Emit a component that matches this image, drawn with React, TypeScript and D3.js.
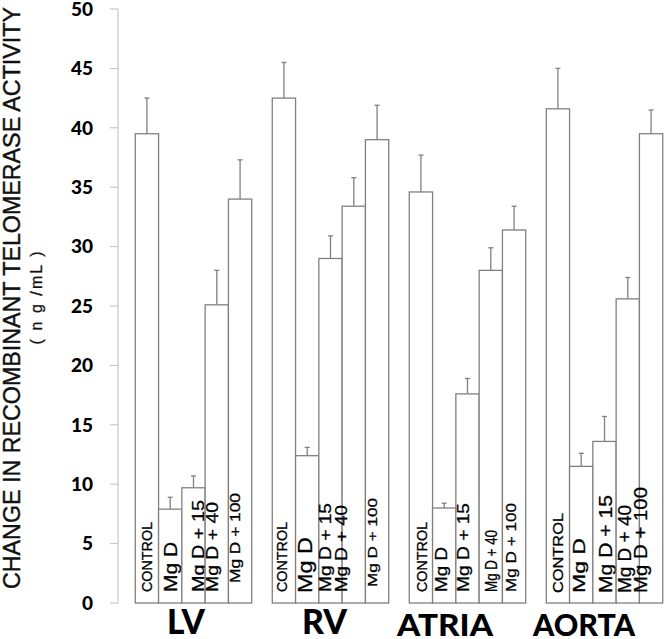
import React from "react";
import * as d3 from "d3";

const groups = ["LV", "RV", "ATRIA", "AORTA"];
const treatments = ["CONTROL", "Mg D", "Mg D + 15", "Mg D + 40", "Mg D + 100"];
const lvMeans = [39.5, 7.9, 9.7, 25.1, 34.0];
const lvErr = [3.0, 1.0, 1.0, 2.9, 3.3];
const rvMeans = [42.5, 12.4, 29.0, 33.4, 39.0];
const rvErr = [3.0, 0.7, 1.9, 2.4, 2.9];
const atriaMeans = [34.6, 8.0, 17.6, 28.0, 31.4];
const atriaErr = [3.1, 0.4, 1.3, 1.9, 2.0];
const aortaMeans = [41.6, 11.5, 13.6, 25.6, 39.5];
const aortaErr = [3.4, 1.1, 2.1, 1.8, 2.0];
const yTicks = [0, 5, 10, 15, 20, 25, 30, 35, 40, 45, 50];
const yTitle = "CHANGE IN RECOMBINANT TELOMERASE ACTIVITY";
const yUnit = "( n g /mL )";

const means = [lvMeans, rvMeans, atriaMeans, aortaMeans];
const errs = [lvErr, rvErr, atriaErr, aortaErr];

// label styling: [baseline offset from bar left, font size, text length, bottom y]
const labelStyle = [
  [[17, 14, 70, 592], [18, 19, 50, 592], [22, 17, 92, 592], [13, 17, 90, 592], [11.5, 14, 90, 583]],
  [[14.7, 14, 70, 592], [16.4, 21, 56, 593], [12, 16, 89, 592], [5, 17, 87, 592], [11.5, 13, 89, 587]],
  [[17.7, 14, 70, 592], [14.4, 17, 45, 592], [13, 17, 89, 592], [17.8, 17, 62, 592], [13.5, 15, 89, 592]],
  [[16.7, 15, 80, 593], [15.4, 17, 55, 593], [19, 19, 98, 593], [14.8, 18, 88, 593], [7.5, 19, 106, 593]],
];
// group label styling: [start x, font size, length, baseline]
const groupLabelStyle = [
  [167, 35, 38, 634],
  [302, 35, 45, 634],
  [397, 30, 96, 636],
  [533, 30, 102, 636],
];

const sans = "'Liberation Sans', Arial, sans-serif";
const boldFont = "Lato, 'Open Sans', sans-serif";

export default function App() {
  const W = 666, H = 639;
  const y = d3.scaleLinear().domain([0, 50]).range([603, 9]);
  const xg = d3.scaleBand<string>().domain(groups).range([125, 673]).paddingInner(0.15).paddingOuter(0.075);
  const xt = d3.scaleBand<string>().domain(treatments).range([0, xg.bandwidth()]).padding(0);
  const barStroke = "#808080";
  const axisX = 118;

  return (
    <svg width={W} height={H} style={{ position: "absolute", left: 0, top: 0, background: "#fff" }}>
      {/* y axis */}
      <line x1={axisX} x2={axisX} y1={y(50)} y2={y(0)} stroke="#bfbfbf" strokeWidth={1} />
      {yTicks.map((t) => (
        <g key={t}>
          <line x1={axisX - 8} x2={axisX} y1={y(t)} y2={y(t)} stroke="#bfbfbf" strokeWidth={1} />
          <text x={93} y={y(t)} dy="0.36em" textAnchor="end" fontFamily={boldFont} fontWeight={900} fontSize={19} fill="#000">
            {t}
          </text>
        </g>
      ))}
      {/* titles */}
      <text transform={`translate(19.5,298) rotate(-90)`} textAnchor="middle" fontFamily={sans} fontSize={23} textLength={582} lengthAdjust="spacingAndGlyphs" fill="#111" stroke="#111" strokeWidth={0.4}>
        {yTitle}
      </text>
      <text transform={`translate(42,298) rotate(-90)`} textAnchor="middle" fontFamily={sans} fontSize={16} textLength={93} lengthAdjust="spacing" fill="#111" stroke="#111" strokeWidth={0.3}>
        {yUnit}
      </text>
      {/* bars */}
      {groups.map((g, gi) => {
        const gx = xg(g)!;
        return (
          <g key={g}>
            {treatments.map((t, ti) => {
              const bx = gx + xt(t)!;
              const bw = xt.bandwidth();
              const v = means[gi][ti];
              const e = errs[gi][ti];
              const cx = bx + bw / 2;
              const [dx, fs, len, by] = labelStyle[gi][ti];
              return (
                <g key={t}>
                  <line x1={cx} x2={cx} y1={y(v)} y2={y(v + e)} stroke={barStroke} strokeWidth={1.3} />
                  <line x1={cx - 2.5} x2={cx + 2.5} y1={y(v + e)} y2={y(v + e)} stroke={barStroke} strokeWidth={1.3} />
                  <rect x={bx} y={y(v)} width={bw} height={y(0) - y(v)} fill="#fff" stroke={barStroke} strokeWidth={1.3} />
                  <text transform={`translate(${bx + dx},${by}) rotate(-90)`} fontFamily={sans} fontSize={fs} textLength={len} lengthAdjust="spacingAndGlyphs" fill="#000" stroke="#000" strokeWidth={0.3}>
                    {t}
                  </text>
                </g>
              );
            })}
          </g>
        );
      })}
      {/* group labels */}
      {groups.map((g, gi) => {
        const [sx, fs, len, by] = groupLabelStyle[gi];
        return (
          <text key={g} x={sx} y={by} fontFamily={boldFont} fontWeight={900} fontSize={fs} textLength={len} lengthAdjust="spacingAndGlyphs" fill="#000">
            {g}
          </text>
        );
      })}
    </svg>
  );
}
